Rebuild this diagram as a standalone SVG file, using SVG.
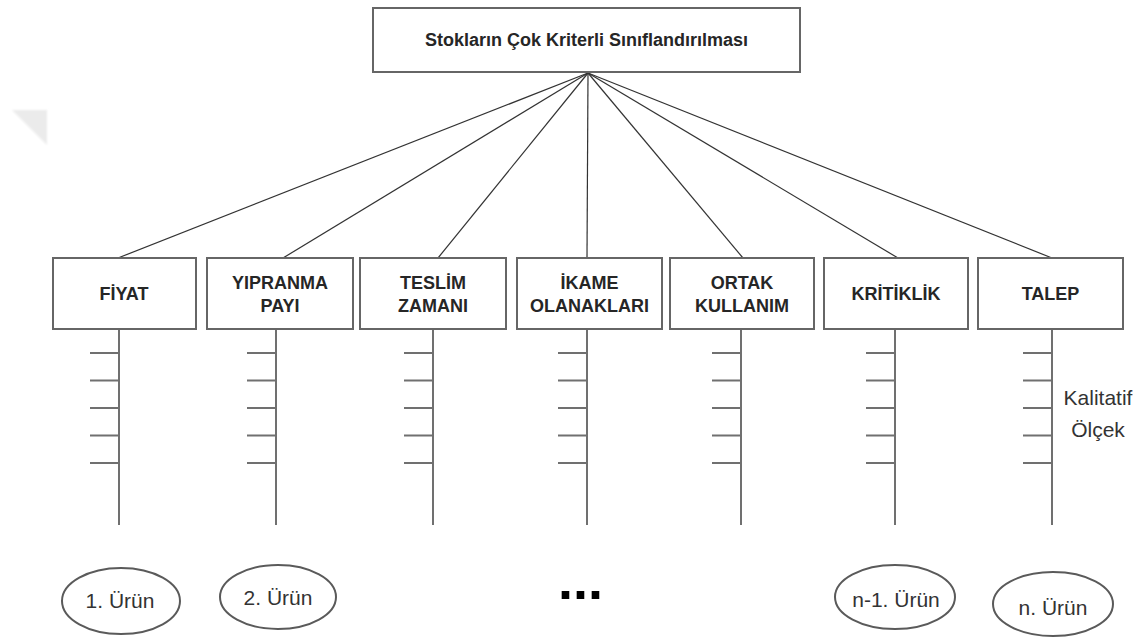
<svg xmlns="http://www.w3.org/2000/svg" width="1143" height="637" viewBox="0 0 1143 637">
  <defs>
    <filter id="soft" x="-20%" y="-20%" width="140%" height="140%">
      <feGaussianBlur stdDeviation="1.2"/>
    </filter>
  </defs>
  <style>
    .box { fill: #ffffff; stroke: #666666; stroke-width: 2; }
    .conn { stroke: #333333; stroke-width: 1.2; fill: none; }
    .axis { stroke: #707070; stroke-width: 2; fill: none; }
    .oval { fill: #ffffff; stroke: #5a5a5a; stroke-width: 2; }
    .lbl { font-family: "Liberation Sans", Arial, sans-serif; font-weight: bold; font-size: 18px; fill: #262626; text-anchor: middle; }
    .txt { font-family: "Liberation Sans", Arial, sans-serif; font-size: 21px; fill: #333333; text-anchor: middle; }
  </style>

  <rect width="1143" height="637" fill="#ffffff"/>

  <!-- faint corner mark -->
  <polygon points="12,110 47,110 47,145" fill="#ebebeb" filter="url(#soft)"/>

  <!-- connectors from the root to each criterion -->
  <g id="connectors">
    <line class="conn" x1="588" y1="73" x2="118" y2="258"/>
    <line class="conn" x1="588" y1="73" x2="283" y2="258"/>
    <line class="conn" x1="588" y1="73" x2="438" y2="258"/>
    <line class="conn" x1="588" y1="73" x2="587" y2="258"/>
    <line class="conn" x1="588" y1="73" x2="743" y2="258"/>
    <line class="conn" x1="588" y1="73" x2="898" y2="258"/>
    <line class="conn" x1="588" y1="73" x2="1052" y2="258"/>
  </g>

  <!-- root -->
  <g id="root">
    <rect class="box" x="373" y="8" width="427" height="64"/>
    <text class="lbl" x="586.5" y="46">Stokların Çok Kriterli Sınıflandırılması</text>
  </g>

  <!-- scale axes under each criterion -->
  <g id="scales">
    <path class="axis" d="M119 329V525 M90 353H119 M90 380.5H119 M90 408H119 M90 435.5H119 M90 463H119"/>
    <path class="axis" d="M276 329V525 M247 353H276 M247 380.5H276 M247 408H276 M247 435.5H276 M247 463H276"/>
    <path class="axis" d="M433 329V525 M404 353H433 M404 380.5H433 M404 408H433 M404 435.5H433 M404 463H433"/>
    <path class="axis" d="M587 329V525 M558 353H587 M558 380.5H587 M558 408H587 M558 435.5H587 M558 463H587"/>
    <path class="axis" d="M741 329V525 M712 353H741 M712 380.5H741 M712 408H741 M712 435.5H741 M712 463H741"/>
    <path class="axis" d="M895 329V525 M866 353H895 M866 380.5H895 M866 408H895 M866 435.5H895 M866 463H895"/>
    <path class="axis" d="M1052 329V525 M1023 353H1052 M1023 380.5H1052 M1023 408H1052 M1023 435.5H1052 M1023 463H1052"/>
    <text class="txt" x="1098" y="405">Kalitatif</text>
    <text class="txt" x="1098" y="437">Ölçek</text>
  </g>

  <!-- criteria -->
  <g id="fiyat">
    <rect class="box" x="53" y="258" width="143" height="71"/>
    <text class="lbl" x="124" y="300">FİYAT</text>
  </g>
  <g id="yipranma">
    <rect class="box" x="207" y="258" width="146" height="71"/>
    <text class="lbl" x="280" y="289">YIPRANMA</text>
    <text class="lbl" x="280" y="312">PAYI</text>
  </g>
  <g id="teslim">
    <rect class="box" x="360" y="258" width="146" height="71"/>
    <text class="lbl" x="433" y="289">TESLİM</text>
    <text class="lbl" x="433" y="312">ZAMANI</text>
  </g>
  <g id="ikame">
    <rect class="box" x="517" y="258" width="145" height="71"/>
    <text class="lbl" x="589.5" y="289">İKAME</text>
    <text class="lbl" x="589.5" y="312">OLANAKLARI</text>
  </g>
  <g id="ortak">
    <rect class="box" x="670" y="258" width="144" height="71"/>
    <text class="lbl" x="742" y="289">ORTAK</text>
    <text class="lbl" x="742" y="312">KULLANIM</text>
  </g>
  <g id="kritiklik">
    <rect class="box" x="824" y="258" width="144" height="71"/>
    <text class="lbl" x="896" y="300">KRİTİKLİK</text>
  </g>
  <g id="talep">
    <rect class="box" x="978" y="258" width="145" height="71"/>
    <text class="lbl" x="1050.5" y="300">TALEP</text>
  </g>

  <!-- products -->
  <g id="urun1">
    <ellipse class="oval" cx="121" cy="601" rx="59" ry="33"/>
    <text class="txt" x="120" y="608">1. Ürün</text>
  </g>
  <g id="urun2">
    <ellipse class="oval" cx="278" cy="597" rx="58" ry="32"/>
    <text class="txt" x="278" y="605">2. Ürün</text>
  </g>
  <g id="ellipsis">
    <text x="580.5" y="599" font-family="Liberation Sans, Arial, sans-serif" font-weight="bold" font-size="54" fill="#000000" text-anchor="middle">...</text>
  </g>
  <g id="urun-n-1">
    <ellipse class="oval" cx="895" cy="597" rx="60" ry="32"/>
    <text class="txt" x="896" y="607">n-1. Ürün</text>
  </g>
  <g id="urun-n">
    <ellipse class="oval" cx="1053" cy="604" rx="60" ry="32"/>
    <text class="txt" x="1053" y="615">n. Ürün</text>
  </g>
</svg>
